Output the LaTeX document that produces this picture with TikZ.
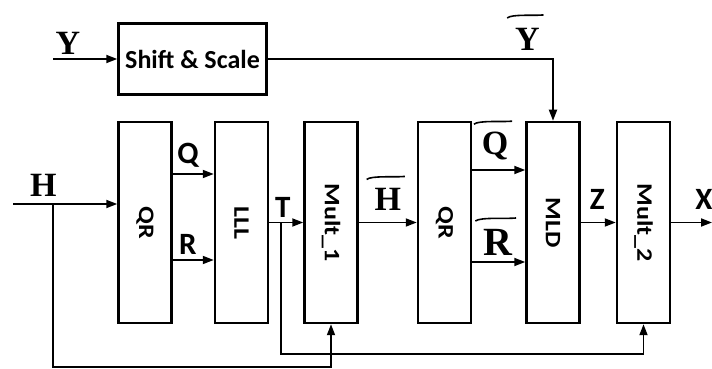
\documentclass[tikz,border=0pt]{standalone}
\usepackage{fontspec}
\usepackage{graphicx}
\newfontfamily\calib{Carlito}
\newfontfamily\timesb{Liberation Serif}
\usetikzlibrary{positioning,arrows.meta,calc}

\tikzset{
  blk/.style={draw, line width=2.5pt, minimum width=53pt, minimum height=201pt, inner sep=0pt},
  wire/.style={line width=1.8pt},
  arr/.style={wire, -{Triangle[length=11pt,width=8pt]}},
  slab/.style={font=\calib\bfseries\fontsize{31}{34}\selectfont, inner sep=1pt},
  mlab/.style={font=\timesb\bfseries\fontsize{34}{38}\selectfont, inner sep=1pt},
  tild/.style={line width=1.6pt},
}
\newcommand{\vtext}[1]{\rotatebox{-90}{\scalebox{1}[0.85]{\calib\bfseries\fontsize{26}{28}\selectfont #1}}}
\newcommand{\wavy}[2]{\draw[tild] ([shift={(-6pt,#2)}]#1.north west) .. controls +(5pt,4pt) and +(-10pt,-1pt) .. ([shift={(2pt,#2+3pt)}]#1.north east);}

\begin{document}
\begin{tikzpicture}[x=1pt,y=1pt]
  \useasboundingbox (0,0) rectangle (712,369);
  % blocks
  \node[draw, line width=2.5pt, minimum width=148pt, minimum height=71pt,
        font=\calib\bfseries\fontsize{26}{28}\selectfont] (shift) at (192.5,310) {Shift \& Scale};
  \node[blk] (qra) at (145,146.5) {\vtext{QR}};
  \node[blk, right=41pt of qra] (lll) {\vtext{LLL}};
  \node[blk, right=34pt of lll] (multa) {\vtext{Mult\_1}};
  \node[blk, right=58pt of multa] (qrb) {\vtext{QR}};
  \node[blk, right=53pt of qrb] (mld) {\vtext{MLD}};
  \node[blk, right=35pt of mld] (multb) {\vtext{Mult\_2}};

  % free ends
  \coordinate (yin) at (53,310);
  \coordinate (hin) at (13,165);
  \coordinate (hsp) at (53,165);
  \coordinate (hbot) at (53,2);
  \coordinate (tsp) at (281,146.5);
  \coordinate (tbot) at (281,15);
  \coordinate (xout) at (712,146.5);

  % Y path
  \draw[arr] (yin) -- node[mlab, above=3pt, pos=0.23] {Y} (shift);
  \draw[arr] (shift.east) -| node[mlab, above=7pt, pos=0.455] (lty) {Y} (mld.north);

  % H path
  \draw[arr] (hin) -- node[mlab, above=6pt, pos=0.29] {H} (hin -| qra.west);
  \draw[arr] (hsp) -- (hbot) -| (multa.south);

  % QR -> LLL
  \draw[arr] ([yshift=48.5pt]qra.east) -- node[slab, above=5pt, pos=0.37] {Q} ([yshift=48.5pt]lll.west);
  \draw[arr] ([yshift=-37.5pt]qra.east) -- node[slab, above=4pt, pos=0.37] {R} ([yshift=-37.5pt]lll.west);

  % T
  \draw[arr] (lll.east) -- node[slab, above=3pt, pos=0.4] {T} (multa.west);
  \draw[arr] (tsp) -- (tbot) -| (multb.south);

  % Mult_1 -> QR
  \draw[arr] (multa.east) -- node[mlab, above=10pt, pos=0.5] (lth) {H} (qrb.west);

  % QR -> MLD
  \draw[arr] ([yshift=52.5pt]qrb.east) -- node[mlab, above=8pt, pos=0.43] (ltq) {Q} ([yshift=52.5pt]mld.west);
  \draw[arr] ([yshift=-39.5pt]qrb.east) -- node[mlab, font=\timesb\bfseries\fontsize{40}{44}\selectfont, above=5pt, pos=0.48] (ltr) {R} ([yshift=-39.5pt]mld.west);

  % MLD -> Mult_2 -> out
  \draw[arr] (mld.east) -- node[slab, above=11pt, pos=0.47] {Z} (multb.west);
  \draw[arr] (multb.east) -- node[slab, above=11pt, pos=0.8] {X} (xout);

  % tildes
  \wavy{lty}{8pt}
  \wavy{lth}{7pt}
  \wavy{ltq}{6pt}
  \wavy{ltr}{6pt}
\end{tikzpicture}
\end{document}
